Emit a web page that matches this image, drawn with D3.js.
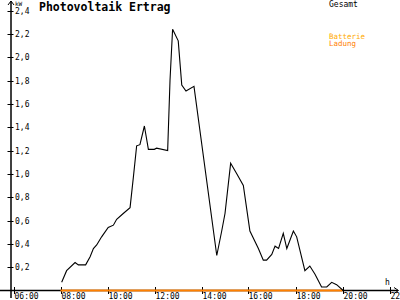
<!DOCTYPE html>
<html>
<head>
<meta charset="utf-8">
<script src="https://cdn.jsdelivr.net/npm/d3@7"></script>
<style>
  body { margin: 0; background: #fff; }
  svg { display: block; }
</style>
</head>
<body>
<svg id="chart"></svg>
<script>
var width = 400, height = 300;

// Gesamt (kW) over the day, hours as decimals
var hours = [8.05, 8.26, 8.62, 8.76, 9.07, 9.26, 9.40, 9.54, 9.75, 10.03, 10.25, 10.39, 10.67, 10.96,
    11.10, 11.24, 11.38, 11.57, 11.74, 11.99, 12.09, 12.56, 12.66, 12.77, 13.01, 13.16, 13.34, 13.68,
    14.65, 14.86, 15.00, 15.24, 15.50, 15.78, 16.06, 16.42, 16.63, 16.77, 16.99, 17.13, 17.28, 17.34,
    17.48, 17.63, 17.91, 18.05, 18.40, 18.61, 18.83, 19.11, 19.33, 19.54, 19.75, 20.03];
var gesamt = [0.07, 0.17, 0.24, 0.22, 0.22, 0.29, 0.36, 0.39, 0.46, 0.54, 0.56, 0.61, 0.66, 0.71,
    0.97, 1.24, 1.25, 1.41, 1.21, 1.21, 1.22, 1.20, 1.80, 2.24, 2.14, 1.76, 1.71, 1.75,
    0.30, 0.51, 0.66, 1.09, 1.00, 0.90, 0.51, 0.36, 0.26, 0.26, 0.31, 0.38, 0.36, 0.40,
    0.49, 0.36, 0.51, 0.46, 0.17, 0.21, 0.14, 0.03, 0.03, 0.07, 0.05, 0.00];

// Batterie Ladung
var battHours = [8, 20];
var battValues = [0, 0];

var xTicks = [6, 8, 10, 12, 14, 16, 18, 20, 22];
var xTickLabels = ["06:00", "08:00", "10:00", "12:00", "14:00", "16:00", "18:00", "20:00", "22:00"];
var yTicks = [0.2, 0.4, 0.6, 0.8, 1.0, 1.2, 1.4, 1.6, 1.8, 2.0, 2.2, 2.4];

var svg = d3.select("#chart").attr("width", width).attr("height", height);

var x = d3.scaleLinear().domain([8, 20]).range([60.5, 342.5]);
var y = d3.scaleLinear().domain([0, 2.4]).range([290.5, 10.5]);

var font = "'DejaVu Sans Mono', monospace";

// title
svg.append("text").attr("x", 39).attr("y", 11).text("Photovoltaik Ertrag")
    .style("font-family", font).style("font-size", "11.5px").style("font-weight", "bold");

// legend
svg.append("text").attr("x", 329).attr("y", 7).text("Gesamt")
    .style("font-family", font).style("font-size", "8px").style("fill", "#000");
svg.append("text").attr("x", 329).attr("y", 38.5).text("Batterie")
    .style("font-family", font).style("font-size", "7.5px").style("fill", "#ffaa00");
svg.append("text").attr("x", 329).attr("y", 46).text("Ladung")
    .style("font-family", font).style("font-size", "7.5px").style("fill", "#ff8000");

// y axis
var yAxisX = 11;
svg.append("line").attr("x1", yAxisX).attr("x2", yAxisX).attr("y1", 1).attr("y2", 298)
    .style("stroke", "#000").style("stroke-width", 1.5);
svg.append("path").attr("d", "M" + (yAxisX - 3) + ",5 L" + yAxisX + ",1 L" + (yAxisX + 3) + ",5")
    .style("fill", "none").style("stroke", "#000").style("stroke-width", 1);
svg.append("text").attr("x", 15).attr("y", 5.5).text("kW")
    .style("font-family", font).style("font-size", "6px");

yTicks.forEach(function(v) {
    svg.append("line").attr("x1", yAxisX - 3.5).attr("x2", yAxisX + 2.5)
        .attr("y1", Math.round(y(v)) + 0.5).attr("y2", Math.round(y(v)) + 0.5)
        .style("stroke", "#000").style("stroke-width", 1);
    svg.append("text").attr("x", 15).attr("y", y(v) + 3)
        .text(v.toFixed(1).replace(".", ","))
        .style("font-family", font).style("font-size", "8px");
});

// x axis
svg.append("line").attr("x1", 0).attr("x2", 398).attr("y1", 290.5).attr("y2", 290.5)
    .style("stroke", "#000").style("stroke-width", 1.5);
svg.append("path").attr("d", "M394,287.5 L398.5,290.5 L394,293.5")
    .style("fill", "none").style("stroke", "#000").style("stroke-width", 1);
svg.append("text").attr("x", 385).attr("y", 285).text("h")
    .style("font-family", font).style("font-size", "8px");

xTicks.forEach(function(t, i) {
    var xt = Math.round(x(t)) + 0.5;
    svg.append("line").attr("x1", xt).attr("x2", xt).attr("y1", 287).attr("y2", 294)
        .style("stroke", "#000").style("stroke-width", 1);
    svg.append("text").attr("x", xt).attr("y", 299).text(xTickLabels[i])
        .style("font-family", font).style("font-size", "8px");
});

// battery series
var batLine = d3.line().x(function(d, i) { return x(battHours[i]); }).y(function(d) { return y(d); });
svg.append("path").attr("d", batLine(battValues))
    .style("fill", "none").style("stroke", "#ff8000").style("stroke-width", 2);

// total series
var line = d3.line().x(function(d, i) { return x(hours[i]); }).y(function(d) { return y(d); });
svg.append("path").attr("d", line(gesamt))
    .style("fill", "none").style("stroke", "#000").style("stroke-width", 1.1);
</script>
</body>
</html>
